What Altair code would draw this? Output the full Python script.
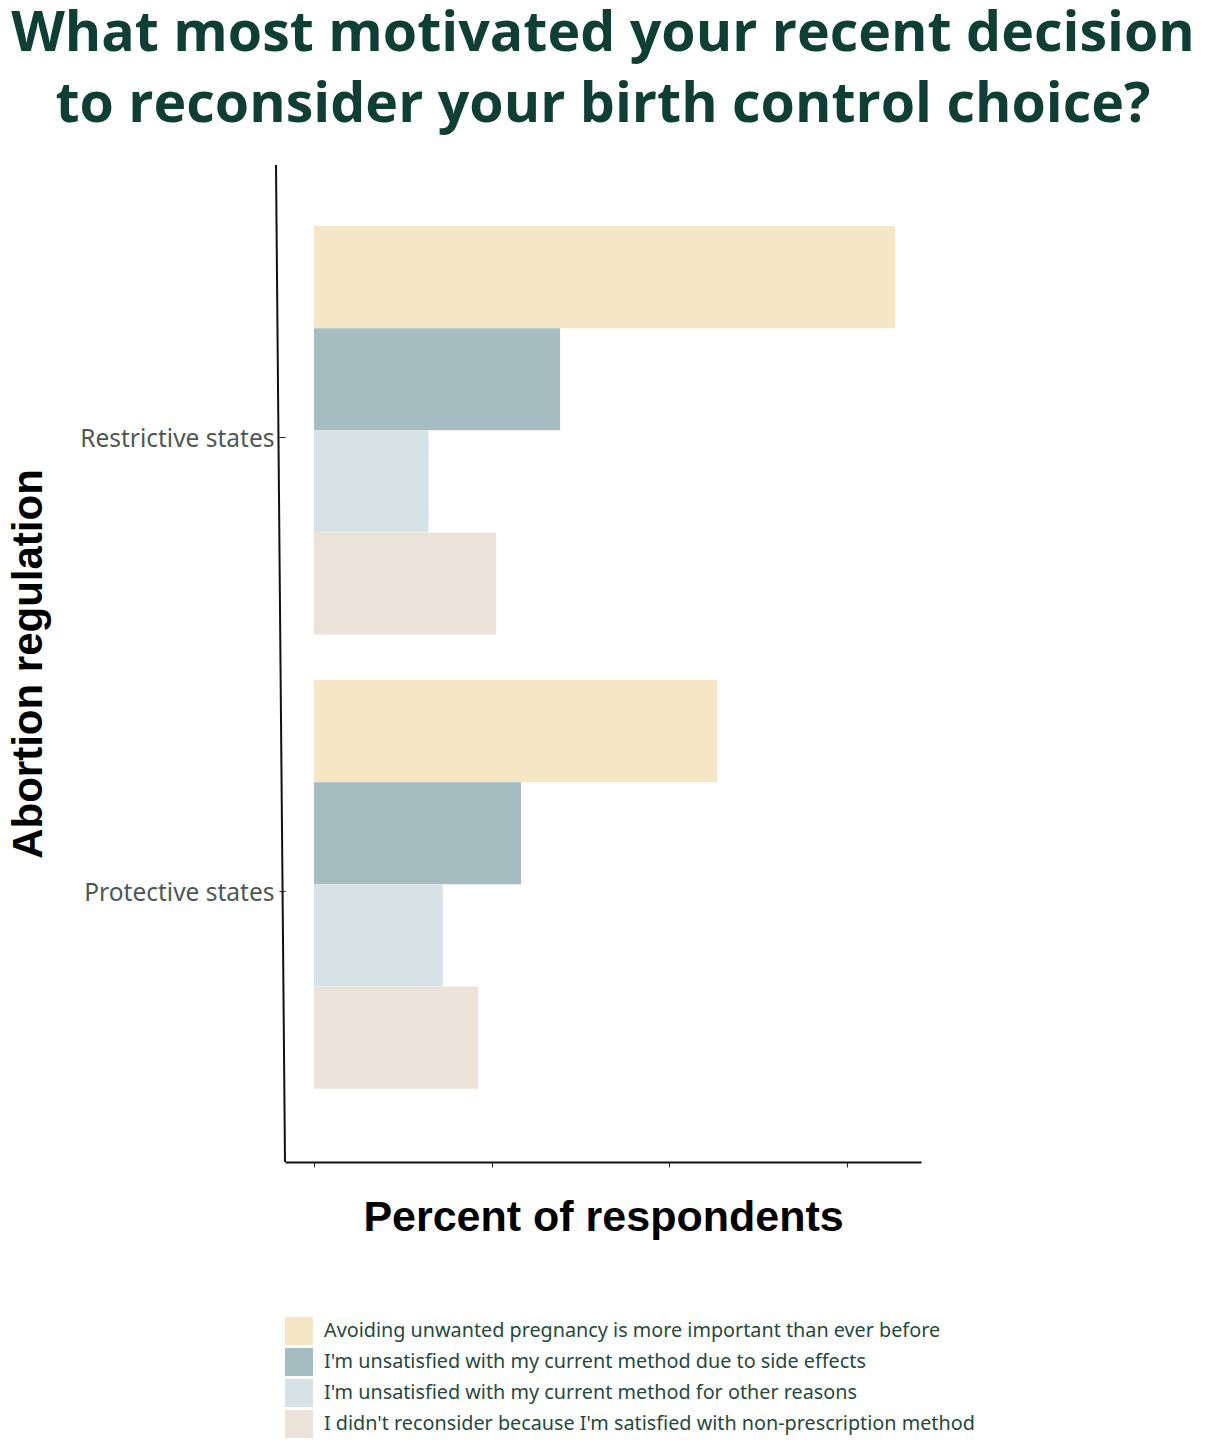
import altair as alt
import pandas as pd

regions = ["Restrictive states", "Protective states"]
reasons = [
    "Avoiding unwanted pregnancy is more important than ever before",
    "I'm unsatisfied with my current method due to side effects",
    "I'm unsatisfied with my current method for other reasons",
    "I didn't reconsider because I'm satisfied with non-prescription method",
]
restrictive_vals = [32.7, 13.85, 6.45, 10.25]
protective_vals = [22.7, 11.65, 7.25, 9.25]
colors = ["#f5e7c5", "#a5bcc1", "#d7e2e6", "#ebe3d9"]
x_ticks = [0, 10, 20, 30]

rows = []
for r, vals in zip(regions, [restrictive_vals, protective_vals]):
    for k, v in zip(reasons, vals):
        rows.append({"region": r, "reason": k, "value": v})
df = pd.DataFrame(rows)

base = alt.Chart(df)

bars = base.mark_bar(opacity=1).encode(
    x=alt.X(
        "value:Q",
        scale=alt.Scale(domain=[-1.63, 34.16], nice=False, zero=False),
        axis=alt.Axis(
            values=x_ticks,
            labels=False,
            grid=False,
            tickSize=5,
            tickColor="#222222",
            domainColor="#111111",
            domainWidth=2,
            title="Percent of respondents",
            titleFont="Liberation Sans",
            titleFontSize=43,
            titleFontWeight="bold",
            titleColor="#000000",
            titlePadding=29,
        ),
    ),
    x2=alt.datum(0),
    y=alt.Y(
        "region:N",
        sort=regions,
        scale=alt.Scale(paddingInner=0.1, paddingOuter=0.148, align=0.454),
        axis=alt.Axis(
            domain=False,
            grid=False,
            tickSize=6,
            tickColor="#222222",
            labelFont="Noto Sans",
            labelFontSize=24.5,
            labelColor="#4d5853",
            labelPadding=5,
            labelOffset=2,
            tickOffset=7,
            labelLimit=400,
            title="Abortion regulation",
            titleFont="Liberation Sans",
            titleFontSize=42,
            titleFontWeight="bold",
            titleColor="#000000",
            titlePadding=35,
        ),
    ),
    yOffset=alt.YOffset("reason:N", sort=reasons, scale=alt.Scale(paddingInner=0, paddingOuter=0)),
    color=alt.Color(
        "reason:N",
        sort=reasons,
        scale=alt.Scale(domain=reasons, range=colors),
        legend=alt.Legend(
            title=None,
            orient="none",
            legendX=0,
            legendY=1152,
            direction="vertical",
            symbolType="square",
            symbolSize=784,
            symbolStrokeWidth=0,
            symbolOpacity=1,
            labelFont="Noto Sans",
            labelFontSize=19.8,
            labelColor="#1f4a3b",
            labelOffset=11,
            rowPadding=3,
            padding=0,
            labelLimit=900,
        ),
    ),
)

yaxis_line = alt.Chart(pd.DataFrame({"a": [0]})).mark_rule(color="#111111", strokeWidth=2).encode(
    x=alt.value(-9), x2=alt.value(0), y=alt.value(0), y2=alt.value(997)
)

chart = (
    alt.layer(bars, yaxis_line)
    .properties(
        width=636,
        height=997,
        padding={"left": 277, "top": 157, "right": 278, "bottom": 276},
        autosize=alt.AutoSizeParams(type="none"),
        title=alt.Title(
            text=["What most motivated your recent decision", "to reconsider your birth control choice?"],
            font="Open Sans",
            fontSize=55.5,
            fontWeight="bold",
            color="#0f3f33",
            anchor="middle",
            lineHeight=71,
            offset=31,
        ),
    )
    .configure_view(stroke=None)
)

chart.save("out.html", embed_options={"renderer": "svg", "actions": False})
